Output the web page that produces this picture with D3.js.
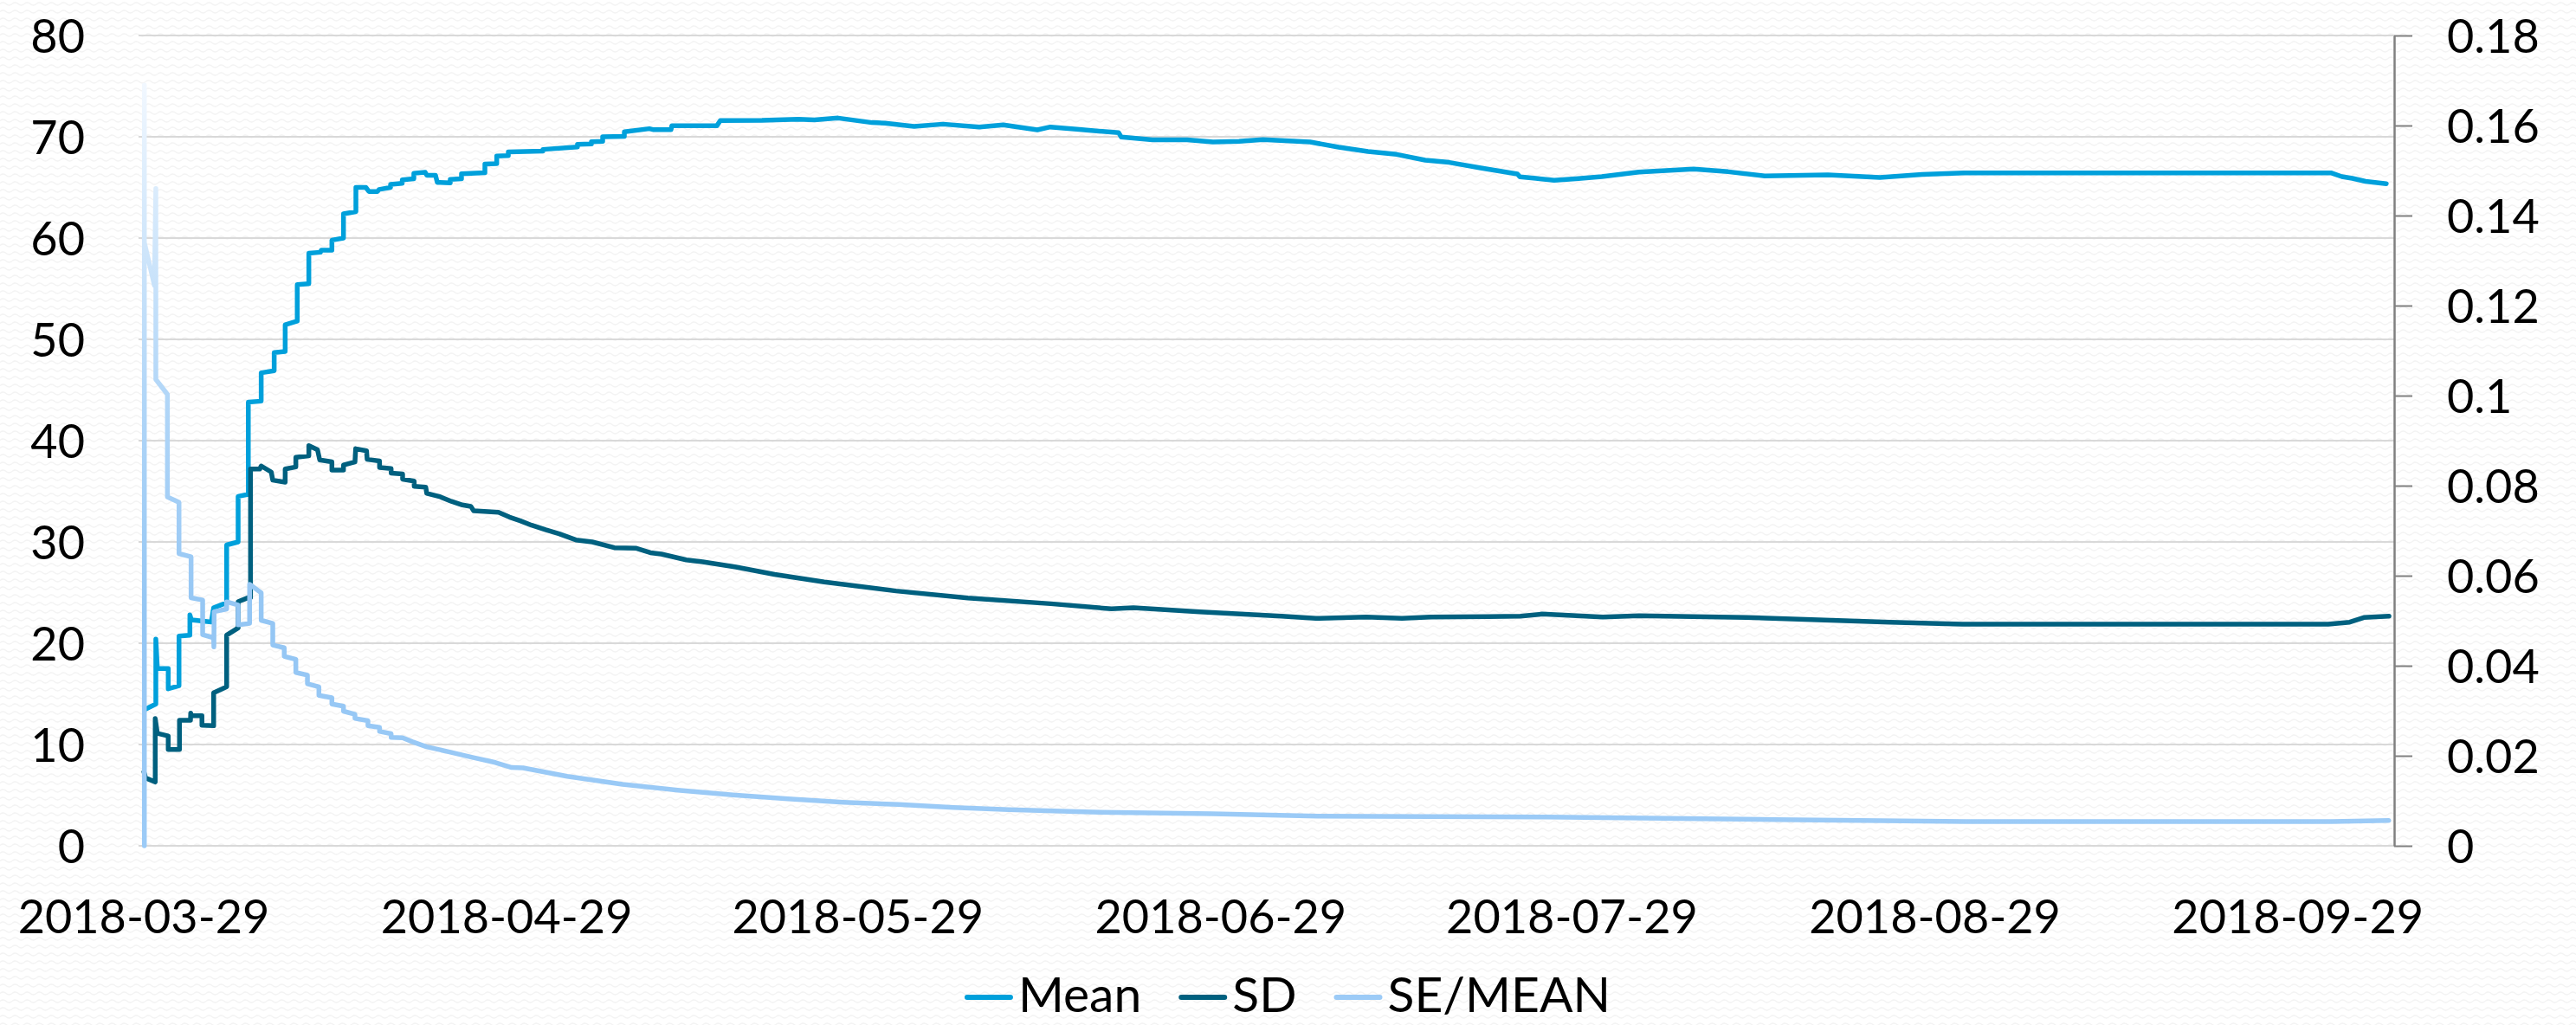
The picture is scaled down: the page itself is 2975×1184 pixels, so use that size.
<!DOCTYPE html>
<html>
<head>
<meta charset="utf-8">
<script src="https://cdn.jsdelivr.net/npm/d3@7"></script>
<style>
  html, body { margin: 0; padding: 0; background: #fff; }
  svg { display: block; }
  text { font-family: Lato, "Noto Sans", sans-serif; fill: #000; }
</style>
</head>
<body>
<div id="chart"></div>
<script>
(function lineChart(){

  //data
  var startDate = "2018-03-29",
      endDate = "2018-10-07";
  var tickLabels = ["2018-03-29", "2018-04-29", "2018-05-29", "2018-06-29", "2018-07-29", "2018-08-29", "2018-09-29"];
  var leftTicks = [0, 10, 20, 30, 40, 50, 60, 70, 80];
  var rightTicks = [0, 0.02, 0.04, 0.06, 0.08, 0.1, 0.12, 0.14, 0.16, 0.18];
  var seriesNames = ["Mean", "SD", "SE/MEAN"];

  //days after 2018-03-29
  var meanDays = [0.21, 1.07, 1.07, 1.2, 2.13, 2.13, 3.05, 3.05, 3.98, 3.98, 4.1, 5.81, 6.01, 7.12, 7.12, 8.1, 8.1, 8.97, 8.97,
    10.07, 10.07, 11.18, 11.18, 12.12, 12.12, 13.15, 13.15, 14.14, 14.14, 15.13, 15.2, 16.11, 16.11, 17.1, 17.1, 18.16, 18.16,
    19.01, 19.27, 20.01, 20.14, 21.12, 21.12, 22.12, 22.12, 23.11, 23.11, 24.08, 24.22, 24.96, 25.11, 26.22, 26.22, 27.18, 27.18,
    29.18, 29.18, 30.19, 30.19, 31.18, 31.18, 34.13, 34.13, 37.09, 37.09, 38.28, 38.28, 39.24, 39.24, 41.09, 41.09, 43.23, 43.6,
    45.08, 45.15, 49.0, 49.29, 52.85, 55.95, 57.33, 59.35, 62.24, 63.35, 65.84, 68.31, 71.41, 73.46, 76.37, 77.48, 79.73, 83.32,
    83.54, 86.2, 89.16, 91.38, 93.6, 95.64, 99.67, 102.11, 104.62, 107.06, 109.5, 111.55, 114.24, 117.38, 117.6, 118.95, 120.52,
    122.37, 124.59, 127.75, 132.43, 135.37, 138.5, 143.9, 148.34, 151.96, 155.51, 186.87, 187.8, 188.7, 189.83, 191.6];
  var meanValues = [13.5, 14.0, 20.4, 17.5, 17.5, 15.5, 15.8, 20.7, 20.8, 22.8, 22.3, 22.1, 23.5, 24.0, 29.7, 30.0, 34.5, 34.7, 43.8,
    43.9, 46.7, 46.9, 48.7, 48.8, 51.45, 51.8, 55.4, 55.5, 58.5, 58.6, 58.8, 58.8, 59.8, 60.0, 62.4, 62.6, 65.0,
    65.0, 64.6, 64.6, 64.8, 65.0, 65.3, 65.4, 65.75, 65.85, 66.4, 66.5, 66.2, 66.2, 65.5, 65.45, 65.8, 65.85, 66.35,
    66.45, 67.3, 67.35, 68.1, 68.15, 68.5, 68.6, 68.75, 69.0, 69.25, 69.3, 69.5, 69.55, 70.0, 70.05, 70.5, 70.8, 70.7,
    70.7, 71.1, 71.1, 71.6, 71.62, 71.74, 71.67, 71.85, 71.4, 71.35, 71.03, 71.25, 70.97, 71.17, 70.68, 70.97, 70.74, 70.4,
    69.97, 69.7, 69.7, 69.49, 69.55, 69.72, 69.49, 68.97, 68.55, 68.26, 67.69, 67.47, 66.92, 66.32, 66.04, 65.9, 65.7,
    65.85, 66.07, 66.52, 66.81, 66.55, 66.13, 66.24, 65.98, 66.29, 66.44, 66.44, 66.07, 65.9, 65.6, 65.36];

  var sdDays = [0.05, 0.2, 1.02, 1.02, 1.2, 2.13, 2.13, 3.09, 3.09, 4.03, 4.05, 4.1, 5.01, 5.01, 6.01, 6.01, 7.12, 7.12, 8.1, 8.1,
    8.96, 9.16, 9.16, 9.95, 10.07, 10.93, 11.06, 12.12, 12.12, 13.03, 13.03, 14.14, 14.14, 14.88, 15.07, 16.11, 16.11, 17.1, 17.1,
    18.08, 18.14, 19.07, 19.12, 20.18, 20.18, 21.17, 21.17, 22.15, 22.15, 23.14, 23.14, 24.13, 24.21, 25.38, 26.33, 27.26, 27.98,
    28.22, 30.34, 31.28, 32.21, 33.17, 34.36, 35.53, 36.95, 38.35, 40.24, 42.12, 43.31, 44.25, 46.38, 47.79, 50.63, 53.92, 58.17,
    64.3, 70.43, 77.51, 82.7, 84.58, 90.24, 97.23, 100.16, 104.46, 107.51, 109.95, 114.88, 117.64, 119.49, 124.67, 127.76, 136.94,
    149.22, 155.36, 186.63, 188.47, 189.68, 191.83];
  var sdValues = [7.3, 6.7, 6.3, 12.56, 11.1, 10.85, 9.5, 9.5, 12.4, 12.4, 13.1, 12.85, 12.85, 11.9, 11.85, 15.1, 15.7, 20.8, 21.5, 24.1,
    24.5, 24.5, 37.2, 37.2, 37.5, 36.9, 36.1, 35.9, 37.2, 37.4, 38.35, 38.5, 39.5, 39.1, 38.1, 37.9, 37.1, 37.1, 37.6,
    37.9, 39.2, 39.0, 38.15, 38.0, 37.35, 37.25, 36.8, 36.7, 36.2, 36.0, 35.5, 35.4, 34.8, 34.45, 34.0, 33.65, 33.5,
    33.08, 32.93, 32.45, 32.08, 31.65, 31.2, 30.8, 30.2, 30.0, 29.43, 29.37, 28.94, 28.8, 28.23, 28.03, 27.52, 26.8, 26.04,
    25.16, 24.47, 23.9, 23.39, 23.5, 23.1, 22.68, 22.45, 22.59, 22.45, 22.59, 22.62, 22.68, 22.88, 22.59, 22.71, 22.54,
    22.08, 21.88, 21.88, 22.08, 22.54, 22.68];

  var seDays = [0.09, 0.09, 0.09, 0.95, 1.07, 1.07, 2.06, 2.06, 3.05, 3.05, 4.08, 4.08, 5.07, 5.07, 6.01, 6.03, 6.05, 7.12, 7.12,
    8.1, 8.1, 9.08, 9.08, 10.07, 10.07, 11.06, 11.06, 12.04, 12.04, 13.03, 13.03, 14.02, 14.02, 15.0, 15.0, 16.11, 16.11, 17.1, 17.1,
    18.08, 18.08, 19.19, 19.19, 20.18, 20.18, 21.17, 21.17, 22.15, 23.0, 24.19, 26.07, 28.2, 30.07, 31.47, 32.43, 36.21, 40.94,
    45.65, 50.36, 55.07, 59.8, 64.52, 69.23, 73.93, 81.03, 91.31, 100.33, 119.86, 139.39, 155.66, 186.92, 191.8];
  var seValues = [0, 0.169, 0.134, 0.1245, 0.146, 0.1036, 0.1003, 0.0775, 0.0763, 0.0649, 0.0642, 0.0551, 0.0546, 0.0469, 0.0462, 0.0442, 0.052, 0.0526, 0.0542,
    0.0535, 0.0491, 0.0494, 0.0581, 0.0562, 0.0501, 0.0494, 0.0446, 0.044, 0.0421, 0.0414, 0.0385, 0.0379, 0.036, 0.0353, 0.0334, 0.0329, 0.0315, 0.031, 0.0299,
    0.0292, 0.0283, 0.0278, 0.0267, 0.0263, 0.0254, 0.0249, 0.0241, 0.024, 0.0231, 0.022, 0.0209, 0.0196, 0.0185, 0.0174, 0.0173, 0.01544, 0.01365,
    0.01237, 0.01128, 0.01045, 0.00968, 0.00917, 0.00853, 0.00801, 0.0075, 0.00712, 0.0066, 0.0064, 0.00583, 0.00538, 0.00538, 0.00564];

  //variables
  var W = 2975, H = 1184,
      plot = {left: 160, right: 2765, top: 41, bottom: 977},
      parse = d3.timeParse("%Y-%m-%d"),
      t0 = parse(startDate),
      x = d3.scaleTime().domain([t0, parse(endDate)]).range([165.5, 165.5 + 192 * 13.52]),
      yL = d3.scaleLinear().domain([0, 80]).range([plot.bottom, plot.top]),
      yR = d3.scaleLinear().domain([0, 0.18]).range([plot.bottom, plot.top]),
      colors = ["#00a0db", "#00607f", "url(#seGrad)"];

  function toPoints(days, values){
    return days.map(function(d, i){
      return {date: new Date(t0.getTime() + d * 864e5), v: values[i]};
    });
  }

  var svg = d3.select('#chart')
            .append('svg')
            .attr('width', W)
            .attr('height', H);

  var defs = svg.append('defs');

  //faint wavy background texture
  var pat = defs.append('pattern')
      .attr('id', 'bg')
      .attr('patternUnits', 'userSpaceOnUse')
      .attr('width', 14)
      .attr('height', 9);
  pat.append('rect').attr('width', 14).attr('height', 9).attr('fill', '#fff');
  pat.append('path')
      .attr('d', 'M0 4.5 Q3.5 1.5 7 4.5 T14 4.5')
      .attr('fill', 'none')
      .attr('stroke', '#f3f3f3')
      .attr('stroke-width', 1.3);

  //gradient on SE/MEAN line
  var grad = defs.append('linearGradient')
      .attr('id', 'seGrad')
      .attr('gradientUnits', 'userSpaceOnUse')
      .attr('x1', 0).attr('x2', 0)
      .attr('y1', plot.bottom).attr('y2', 95);
  [[0, '#9ccbf7'], [0.3, '#94c6f4'], [0.6, '#b3d7f8'], [0.85, '#d9ebfc'], [1, '#f2f8ff']].forEach(function(s){
    grad.append('stop').attr('offset', s[0]).attr('stop-color', s[1]);
  });

  svg.append('rect')
      .attr('width', W)
      .attr('height', H)
      .attr('fill', 'url(#bg)');

  //gridlines
  svg.append('g')
      .selectAll('line')
      .data(leftTicks)
      .enter()
      .append('line')
      .attr('x1', plot.left)
      .attr('x2', plot.right)
      .attr('y1', function(d){ return yL(d); })
      .attr('y2', function(d){ return yL(d); })
      .attr('stroke', '#d9d9d9')
      .attr('stroke-width', 2);

  //left axis
  var gL = svg.append('g')
      .attr('transform', 'translate(' + plot.left + ',0)')
      .call(d3.axisLeft(yL).tickValues(leftTicks).tickSize(0).tickPadding(62));
  gL.select('.domain').remove();
  gL.selectAll('text').attr('font-size', 54).attr('dy', '0.36em')
      .style('font-family', 'Lato').attr('fill', '#000');

  //right axis
  var gR = svg.append('g')
      .attr('transform', 'translate(' + plot.right + ',0)')
      .call(d3.axisRight(yR).tickValues(rightTicks).tickSize(21).tickSizeOuter(0).tickPadding(40)
        .tickFormat(function(d){ return String(+d.toFixed(2)); }));
  gR.select('.domain').attr('stroke', '#808080').attr('stroke-width', 2.5);
  gR.selectAll('.tick line').attr('stroke', '#808080').attr('stroke-width', 2);
  gR.selectAll('text').attr('font-size', 54).attr('dy', '0.36em')
      .style('font-family', 'Lato').attr('fill', '#000');

  //bottom axis
  var gX = svg.append('g')
      .attr('transform', 'translate(0,' + plot.bottom + ')')
      .call(d3.axisBottom(x).tickValues(tickLabels.map(parse)).tickSize(0)
        .tickFormat(d3.timeFormat("%Y-%m-%d")));
  gX.select('.domain').remove();
  gX.selectAll('text').attr('font-size', 54).attr('y', 101).attr('dy', 0)
      .style('font-family', 'Lato').attr('fill', '#000');

  //lines
  var lineL = d3.line().x(function(d){ return x(d.date); }).y(function(d){ return yL(d.v); });
  var lineR = d3.line().x(function(d){ return x(d.date); }).y(function(d){ return yR(d.v); });

  var series = [
    {name: seriesNames[0], pts: toPoints(meanDays, meanValues), line: lineL},
    {name: seriesNames[1], pts: toPoints(sdDays, sdValues), line: lineL},
    {name: seriesNames[2], pts: toPoints(seDays, seValues), line: lineR}
  ];

  svg.append('g')
      .selectAll('path')
      .data(series)
      .enter()
      .append('path')
      .attr('fill', 'none')
      .attr('stroke', function(d, i){ return colors[i]; })
      .attr('stroke-width', 5.5)
      .attr('stroke-linejoin', 'round')
      .attr('stroke-linecap', 'round')
      .attr('d', function(d){ return d.line(d.pts); });

  //legend
  var legendColors = ["#00a0db", "#00607f", "#9ccbf7"];
  var leg = svg.append('g');
  var cx = 0;
  seriesNames.forEach(function(name, i){
    var item = leg.append('g').attr('transform', 'translate(' + cx + ',0)');
    item.append('line')
        .attr('x1', 2).attr('x2', 52)
        .attr('y1', -17).attr('y2', -17)
        .attr('stroke', legendColors[i])
        .attr('stroke-width', 6)
        .attr('stroke-linecap', 'round');
    var t = item.append('text')
        .attr('x', 61)
        .attr('font-size', 57)
        .text(name);
    cx += 61 + t.node().getComputedTextLength() + 44;
  });
  var legW = cx - 44;
  leg.attr('transform', 'translate(' + ((W - legW) / 2) + ',1169)');

})();
</script>
</body>
</html>
